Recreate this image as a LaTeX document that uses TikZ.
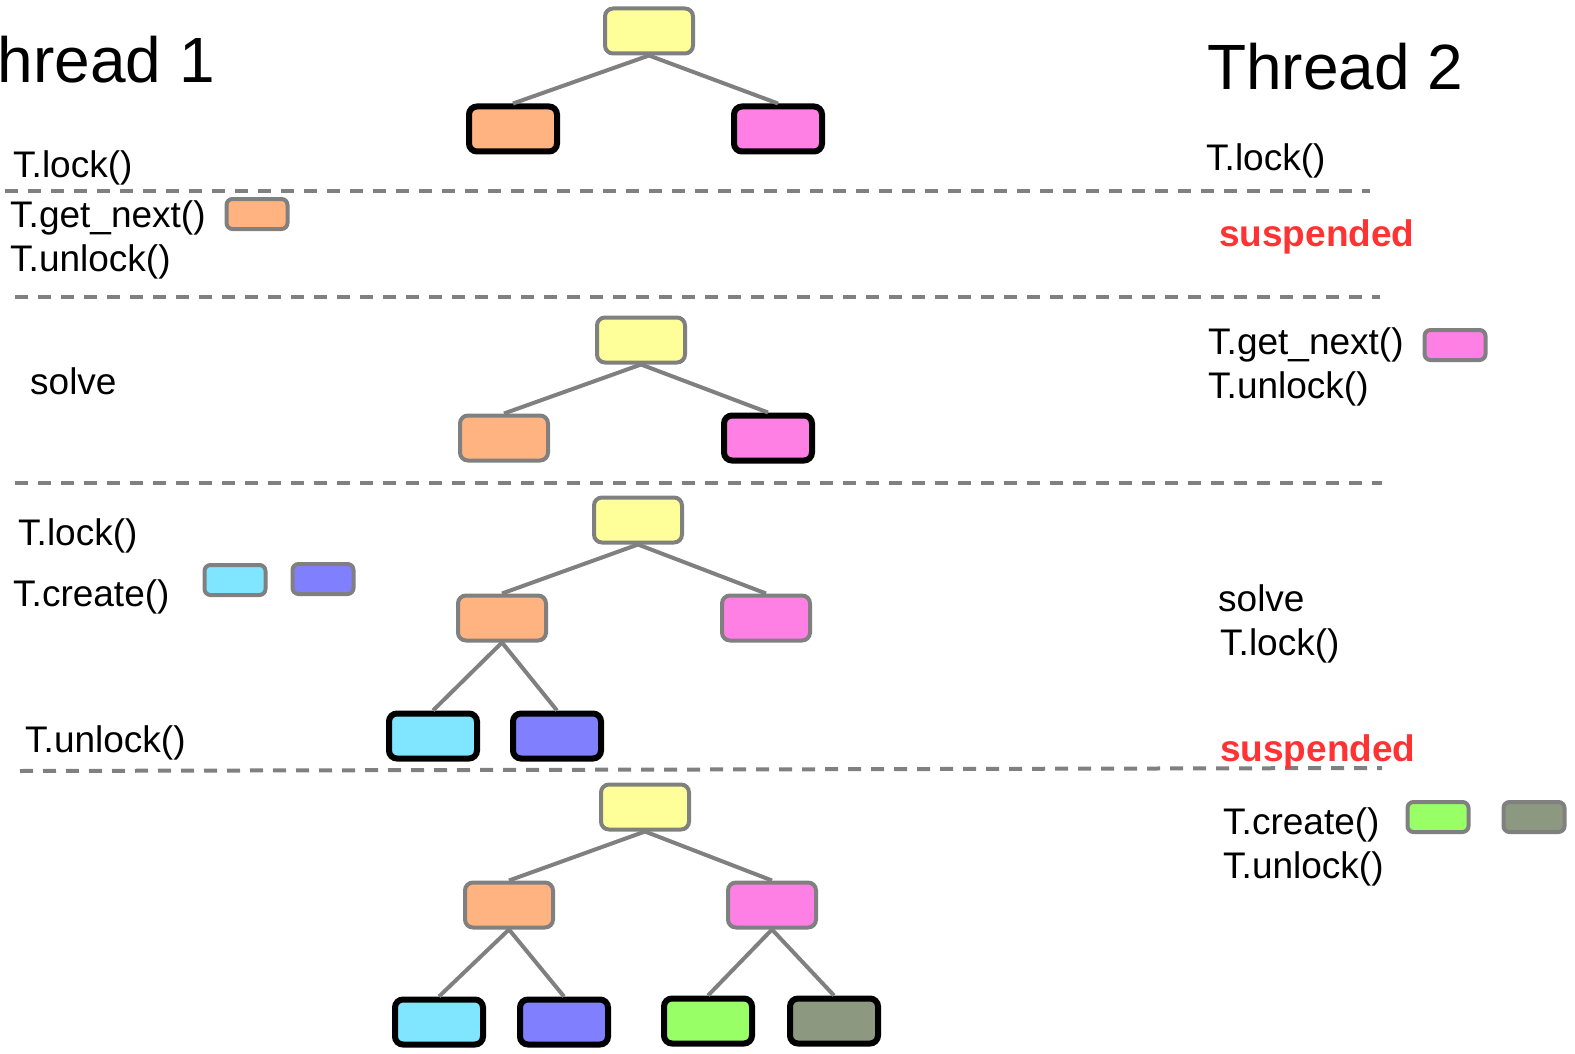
\documentclass[tikz,border=0pt]{standalone}
\usepackage{fontspec}
\setmainfont{Liberation Sans}
\usetikzlibrary{positioning}
\definecolor{tyellow}{HTML}{FFFF99}
\definecolor{torange}{HTML}{FFB380}
\definecolor{tpink}{HTML}{FF80E5}
\definecolor{tcyan}{HTML}{80E5FF}
\definecolor{tblue}{HTML}{8080FF}
\definecolor{tgreen}{HTML}{99FF66}
\definecolor{tolive}{HTML}{8C9980}
\definecolor{lgray}{HTML}{808080}
\definecolor{tred}{HTML}{FF3333}

\begin{document}
\begin{tikzpicture}[%
	x=1pt, y=-1pt,
	node distance=98pt,
	tbox/.style={draw=lgray, line width=4pt, rounded corners=8pt,
		minimum width=88pt, minimum height=45pt, inner sep=0},
	cur/.style={draw=black, line width=6pt},
	sbox/.style={draw=lgray, line width=4pt, rounded corners=6pt,
		minimum width=61pt, minimum height=30pt, inner sep=0},
	lbl/.style={font=\fontsize{37}{42}\selectfont, anchor=base west, inner sep=0},
	hd/.style={font=\fontsize{64}{70}\selectfont, inner sep=0},
	susp/.style={lbl, font=\fontsize{37}{42}\selectfont\bfseries, text=tred},
	sep/.style={draw=lgray, line width=4pt, dash pattern=on 13pt off 10pt},
	link/.style={draw=lgray, line width=4pt}
	]
	\useasboundingbox (0,0) rectangle (1575,1054);
	
	% headings
	\node[hd, anchor=base east] (th1) at (215,83) {Thread 1};
	\node[hd, anchor=base west] (th2) at (1207,90) {Thread 2};
	
	% separators
	\draw[sep] (5,191) -- (1370,191);
	\draw[sep] (15,297) -- (1380,297);
	\draw[sep] (15,483) -- (1382,483);
	\draw[sep] (20,771) -- (1382,768);
	
	% step 1
	\node[tbox, fill=tyellow] (r1) at (649,31) {};
	\node[tbox, cur, fill=torange] (o1) [below of=r1, xshift=-136pt] {};
	\node[tbox, cur, fill=tpink] (p1) [below of=r1, xshift=129pt] {};
	\path[link] (r1.south) edge (o1.north)
	(r1.south) edge (p1.north);
	
	\node[lbl] (l1) at (13,178) {T.lock()};
	\node[lbl] (l2) at (1206,171) {T.lock()};
	
	% step 2
	\node[lbl] (g1) at (10,227) {T.get\_next()};
	\node[sbox, fill=torange] (s1) at (257,214) {};
	\node[lbl] (u1) at (10,271) {T.unlock()};
	\node[susp] (sp1) at (1219,246) {suspended};
	
	% step 3
	\node[tbox, fill=tyellow] (r2) at (641,340) {};
	\node[tbox, fill=torange] (o2) [below of=r2, xshift=-137pt] {};
	\node[tbox, cur, fill=tpink] (p2) [below of=r2, xshift=127pt] {};
	\path[link] (r2.south) edge (o2.north)
	(r2.south) edge (p2.north);
	
	\node[lbl] (v1) at (30,394) {solve};
	\node[lbl] (g2) at (1208,354) {T.get\_next()};
	\node[sbox, fill=tpink] (s2) at (1455,345) {};
	\node[lbl] (u2) at (1208,398) {T.unlock()};
	
	% step 4
	\node[tbox, fill=tyellow] (r3) at (638,520) {};
	\node[tbox, fill=torange] (o3) [below of=r3, xshift=-136pt] {};
	\node[tbox, fill=tpink] (p3) [below of=r3, xshift=128pt] {};
	\node[tbox, cur, fill=tcyan] (c3) [below of=o3, node distance=118pt, xshift=-69pt] {};
	\node[tbox, cur, fill=tblue] (b3) [below of=o3, node distance=118pt, xshift=55pt] {};
	\path[link] (r3.south) edge (o3.north)
	(r3.south) edge (p3.north)
	(o3.south) edge (c3.north)
	(o3.south) edge (b3.north);
	
	\node[lbl] (l3) at (18,545) {T.lock()};
	\node[lbl] (k1) at (13,606) {T.create()};
	\node[sbox, fill=tcyan] (s3) at (235,580) {};
	\node[sbox, fill=tblue] (s4) at (323,579) {};
	\node[lbl] (u3) at (25,752) {T.unlock()};
	
	\node[lbl] (v2) at (1218,611) {solve};
	\node[lbl] (l4) at (1220,655) {T.lock()};
	\node[susp] (sp2) at (1220,761) {suspended};
	
	% step 5
	\node[tbox, fill=tyellow] (r4) at (645,807) {};
	\node[tbox, fill=torange] (o4) [below of=r4, xshift=-136pt] {};
	\node[tbox, fill=tpink] (p4) [below of=r4, xshift=127pt] {};
	\node[tbox, cur, fill=tcyan] (c4) [below of=o4, node distance=117pt, xshift=-70pt] {};
	\node[tbox, cur, fill=tblue] (b4) [below of=o4, node distance=117pt, xshift=55pt] {};
	\node[tbox, cur, fill=tgreen] (e4) [below of=p4, node distance=116pt, xshift=-64pt] {};
	\node[tbox, cur, fill=tolive] (f4) [below of=p4, node distance=116pt, xshift=62pt] {};
	\path[link] (r4.south) edge (o4.north)
	(r4.south) edge (p4.north)
	(o4.south) edge (c4.north)
	(o4.south) edge (b4.north)
	(p4.south) edge (e4.north)
	(p4.south) edge (f4.north);
	
	\node[lbl] (k2) at (1223,834) {T.create()};
	\node[sbox, fill=tgreen] (s5) at (1438,817) {};
	\node[sbox, fill=tolive] (s6) at (1534,817) {};
	\node[lbl] (u4) at (1223,878) {T.unlock()};
\end{tikzpicture}
\end{document}
